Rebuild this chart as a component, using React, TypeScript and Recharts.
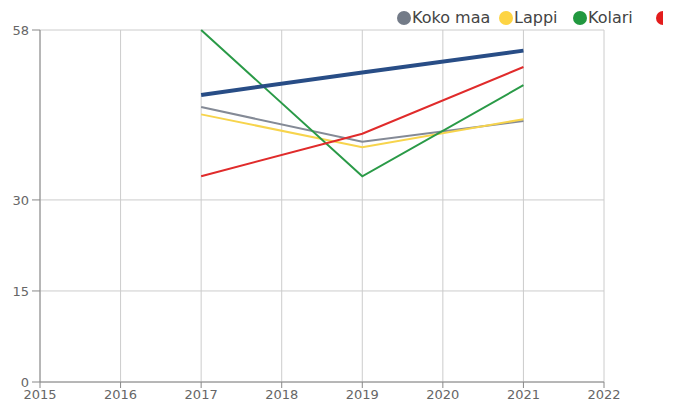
import React from "react";
import { LineChart, Line, XAxis, YAxis, CartesianGrid } from "recharts";

const years = [2017, 2019, 2021];
const kokoMaa = [45.3, 39.6, 43.0];
const lappi = [44.1, 38.7, 43.3];
const kolari = [58, 33.9, 48.9];
const muonio = [33.9, 40.9, 51.9];
const tavoite = [47.3, 51.0, 54.6];

const xTicks = [2015, 2016, 2017, 2018, 2019, 2020, 2021, 2022];
const yTicks = [0, 15, 30, 58];

const series = [
  { key: "kokoMaa", name: "Koko maa", values: kokoMaa, color: "#848a96", width: 2 },
  { key: "lappi", name: "Lappi", values: lappi, color: "#f7d44c", width: 2 },
  { key: "kolari", name: "Kolari", values: kolari, color: "#2a9a47", width: 2 },
  { key: "muonio", name: "Muonio", values: muonio, color: "#e02b2b", width: 2 },
  { key: "tavoite", name: "Tavoite", values: tavoite, color: "#284d86", width: 4 },
];
const legendColors = ["#737b88", "#fdd443", "#21983f", "#e31c1c", "#284d86"];
const legendWidths = [102, 74, 83, 100, 100];

const data = years.map((y, i) => {
  const row: Record<string, number> = { year: y };
  series.forEach((s) => {
    row[s.key] = s.values[i];
  });
  return row;
});

export default function App() {
  return (
    <div
      style={{
        position: "absolute",
        left: 0,
        top: 0,
        width: 675,
        height: 403,
        overflow: "hidden",
        fontFamily: "'DejaVu Sans', sans-serif",
        background: "#fff",
      }}
    >
      <LineChart
        width={675}
        height={403}
        data={data}
        margin={{ top: 30, right: 71, left: 0, bottom: 0 }}
      >
        <CartesianGrid stroke="#cccccc" strokeWidth={1} />
        <XAxis
          dataKey="year"
          type="number"
          domain={[2015, 2022]}
          ticks={xTicks}
          interval={0}
          height={21}
          tickSize={6}
          tickMargin={2}
          stroke="#888"
          tick={{ fill: "#666", fontSize: 13 }}
        />
        <YAxis
          type="number"
          domain={[0, 58]}
          ticks={yTicks}
          interval={0}
          width={40}
          tickSize={8}
          tickMargin={3}
          stroke="#888"
          tick={{ fill: "#666", fontSize: 13 }}
        />
        {series.map((s) => (
          <Line
            key={s.key}
            dataKey={s.key}
            name={s.name}
            stroke={s.color}
            strokeWidth={s.width}
            dot={false}
            activeDot={false}
            isAnimationActive={false}
          />
        ))}
      </LineChart>
      <div
        style={{
          position: "absolute",
          top: 9,
          left: 397,
          width: 266,
          overflow: "hidden",
          display: "flex",
          whiteSpace: "nowrap",
          fontSize: 16,
          lineHeight: "18px",
          color: "#444",
        }}
      >
        {series.map((s, i) => (
          <div
            key={s.key}
            style={{ display: "flex", alignItems: "center", width: legendWidths[i], flexShrink: 0 }}
          >
            <span
              style={{
                display: "inline-block",
                width: 14,
                height: 14,
                borderRadius: "50%",
                background: legendColors[i],
                marginRight: 1,
                flexShrink: 0,
              }}
            />
            <span>{s.name}</span>
          </div>
        ))}
      </div>
    </div>
  );
}
